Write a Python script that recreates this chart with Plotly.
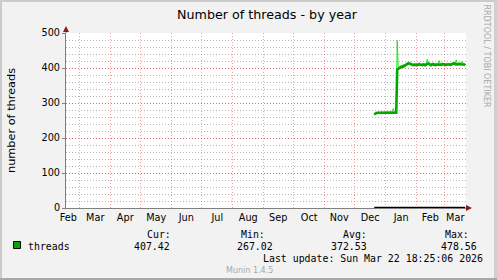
import plotly.graph_objects as go

# ---------------- data ----------------
dates = (
    [f"2025-12-{d:02d}" for d in range(21, 32)]
    + [f"2026-01-{d:02d}" for d in range(1, 32)]
    + [f"2026-02-{d:02d}" for d in range(1, 29)]
    + [f"2026-03-{d:02d}" for d in range(1, 23)]
)
threads_avg = [
    268, 270, 271, 272, 272, 272, 273, 273, 272, 272, 273,          # Dec 21-31
    273, 273, 272, 272, 273, 273, 272, 273, 274, 273, 272, 272,     # Jan 1-12
    396, 398, 400, 402, 403, 404, 404, 406, 408, 410, 412, 413,     # Jan 13-24
    413, 412, 411, 408, 408, 409, 410,                              # Jan 25-31
    409, 408, 409, 411, 409, 408, 408, 410, 409, 408, 410, 412,     # Feb 1-12
    413, 411, 409, 408, 410, 411, 409, 408, 409, 410, 410, 409,     # Feb 13-24
    408, 409, 411, 410,                                             # Feb 25-28
    409, 408, 409, 410, 411, 410, 409, 410, 410, 411, 413, 411,     # Mar 1-12
    410, 410, 411, 412, 411, 410, 410, 409, 410, 407.42,            # Mar 13-22
]
threads_max = [
    267.02, 271, 272, 273, 273, 274, 274, 274, 273, 274, 274,
    274, 275, 274, 273, 274, 275, 274, 275, 284, 275, 274, 274,
    478.56, 402, 404, 405, 406, 407, 407, 409, 411, 413, 415, 416,
    416, 415, 414, 411, 411, 412, 413,
    412, 411, 412, 414, 412, 411, 411, 413, 412, 411, 413, 425,
    416, 414, 412, 411, 413, 414, 412, 411, 412, 413, 413, 421,
    411, 412, 414, 413,
    412, 411, 412, 413, 414, 413, 412, 413, 413, 414, 416, 414,
    423, 413, 414, 415, 414, 413, 419, 412, 413, 409,
]
month_starts = ["2025-03-01", "2025-04-01", "2025-05-01", "2025-06-01", "2025-07-01",
                "2025-08-01", "2025-09-01", "2025-10-01", "2025-11-01", "2025-12-01",
                "2026-01-01", "2026-02-01", "2026-03-01"]
month_label_pos = ["2025-02-18", "2025-03-17", "2025-04-16", "2025-05-17", "2025-06-16",
                   "2025-07-17", "2025-08-17", "2025-09-16", "2025-10-17", "2025-11-16",
                   "2025-12-17", "2026-01-17", "2026-02-15", "2026-03-12"]
month_labels = ["Feb", "Mar", "Apr", "May", "Jun", "Jul", "Aug", "Sep", "Oct", "Nov",
                "Dec", "Jan", "Feb", "Mar"]
y_ticks = [0, 100, 200, 300, 400, 500]
x_start = "2025-02-15 18:25:06"
x_end = "2026-03-22 18:25:06"

stats_labels = ["Cur:", "Min:", "Avg:", "Max:"]
stats_values = ["407.42", "267.02", "372.53", "478.56"]
last_update = "Last update: Sun Mar 22 18:25:06 2026"

# ---------------- layout geometry ----------------
W, H = 497, 280
L, R, T, B = 66, 466, 33, 208


def px(x):
    return (x - L) / (R - L)


def py(y):
    return (B - y) / (B - T)


MONO = "DejaVu Sans Mono"
SANS = "DejaVu Sans"

fig = go.Figure()
fig.add_trace(go.Scatter(x=dates, y=threads_max, mode="lines",
                         line=dict(color="#22e022", width=1), showlegend=False,
                         hoverinfo="skip"))
fig.add_trace(go.Scatter(x=dates, y=threads_avg, mode="lines", name="threads",
                         line=dict(color="#00a800", width=2.6), showlegend=False))
fig.add_trace(go.Scatter(x=dates, y=[0] * len(dates), mode="lines",
                         line=dict(color="#000000", width=2.5), showlegend=False,
                         hoverinfo="skip"))

fig.update_layout(
    width=W, height=H,
    margin=dict(l=L, r=W - R, t=T, b=H - B, pad=0),
    paper_bgcolor="#f2f2f2",
    plot_bgcolor="#ffffff",
    font=dict(family=SANS, size=9.7, color="#000000"),
    showlegend=False,
)
fig.update_xaxes(
    type="date", range=[x_start, x_end],
    tickmode="array", tickvals=month_label_pos, ticktext=month_labels,
    ticks="", showgrid=False, zeroline=False,
    showline=True, linecolor="#808080", linewidth=1,
    tickfont=dict(family=SANS, size=9.7, color="#000000"),
    minor=dict(tickmode="array", tickvals=month_starts, showgrid=True,
               gridcolor="rgba(255,0,0,0.38)", griddash="1px,2px", gridwidth=1,
               ticks=""),
)
fig.update_yaxes(
    range=[0, 500], tickmode="array", tickvals=y_ticks,
    ticks="outside", ticklen=3, tickcolor="#808080",
    showgrid=True, gridcolor="rgba(255,0,0,0.38)", griddash="1px,2px", gridwidth=1,
    zeroline=False, showline=True, linecolor="#808080", linewidth=1,
    tickfont=dict(family=SANS, size=9.7, color="#000000"),
    minor=dict(dtick=20, showgrid=True, gridcolor="rgba(120,120,120,0.55)",
               griddash="1px,2px", gridwidth=1),
)

shapes = []
# frame
shapes.append(dict(type="rect", xref="paper", yref="paper", x0=px(0), x1=px(2), y0=py(H), y1=py(0),
                   fillcolor="#cbcbcb", line=dict(width=0), layer="above"))
shapes.append(dict(type="rect", xref="paper", yref="paper", x0=px(0), x1=px(W), y0=py(2), y1=py(0),
                   fillcolor="#cbcbcb", line=dict(width=0), layer="above"))
shapes.append(dict(type="rect", xref="paper", yref="paper", x0=px(W - 3), x1=px(W), y0=py(H), y1=py(0),
                   fillcolor="#cfcfcf", line=dict(width=0), layer="above"))
shapes.append(dict(type="rect", xref="paper", yref="paper", x0=px(0), x1=px(W), y0=py(H), y1=py(H - 2),
                   fillcolor="#a8a8a8", line=dict(width=0), layer="above"))
# axis extensions + arrows
shapes.append(dict(type="line", xref="paper", yref="paper", x0=0, x1=0, y0=1, y1=py(29),
                   line=dict(color="#808080", width=1), layer="above"))
shapes.append(dict(type="line", xref="paper", yref="paper", x0=1, x1=px(468), y0=0, y1=0,
                   line=dict(color="#808080", width=1), layer="above"))
shapes.append(dict(type="path", xref="paper", yref="paper",
                   path=f"M {px(63)} {py(32)} L {px(69)} {py(32)} L {px(66)} {py(26)} Z",
                   fillcolor="#8b1a1a", line=dict(width=0), layer="above"))
shapes.append(dict(type="path", xref="paper", yref="paper",
                   path=f"M {px(466)} {py(205)} L {px(466)} {py(211)} L {px(472)} {py(208)} Z",
                   fillcolor="#8b1a1a", line=dict(width=0), layer="above"))
# legend swatch
shapes.append(dict(type="rect", xref="paper", yref="paper", x0=px(13.5), x1=px(20.5), y0=py(248.5), y1=py(241.5),
                   fillcolor="#00a800", line=dict(color="#000000", width=1), layer="above"))
fig.update_layout(shapes=shapes)

ann = []


def text(t, x, y, size, family, color="#000000", xanchor="left", angle=0):
    ann.append(dict(text=t, x=px(x), y=py(y), xref="paper", yref="paper", showarrow=False,
                    xanchor=xanchor, yanchor="middle", textangle=angle, borderpad=0,
                    font=dict(family=family, size=size, color=color)))


text("Number of threads - by year", 267.3, 14, 12.7, SANS, xanchor="center")
text("number of threads", 11, 120, 11.3, SANS, xanchor="center", angle=-90)
text("RRDTOOL / TOBI OETIKER", 486.5, 56, 8, SANS, color="#a8a8a8", xanchor="center", angle=90)
label_right = [171.5, 265.5, 367.5, 469.5]
value_right = [170.5, 273.5, 367.5, 477.5]
for lab, xr in zip(stats_labels, label_right):
    text(lab, xr, 234, 9.9, MONO, xanchor="right")
for val, xr in zip(stats_values, value_right):
    text(val, xr, 246, 9.9, MONO, xanchor="right")
text("threads", 26.5, 246, 9.9, MONO)
text(last_update, 261.5, 258, 9.9, MONO)
text("Munin 1.4.5", 225, 270, 8, SANS, color="#a8a8a8")
fig.update_layout(annotations=ann)

fig.write_html("out.html")
